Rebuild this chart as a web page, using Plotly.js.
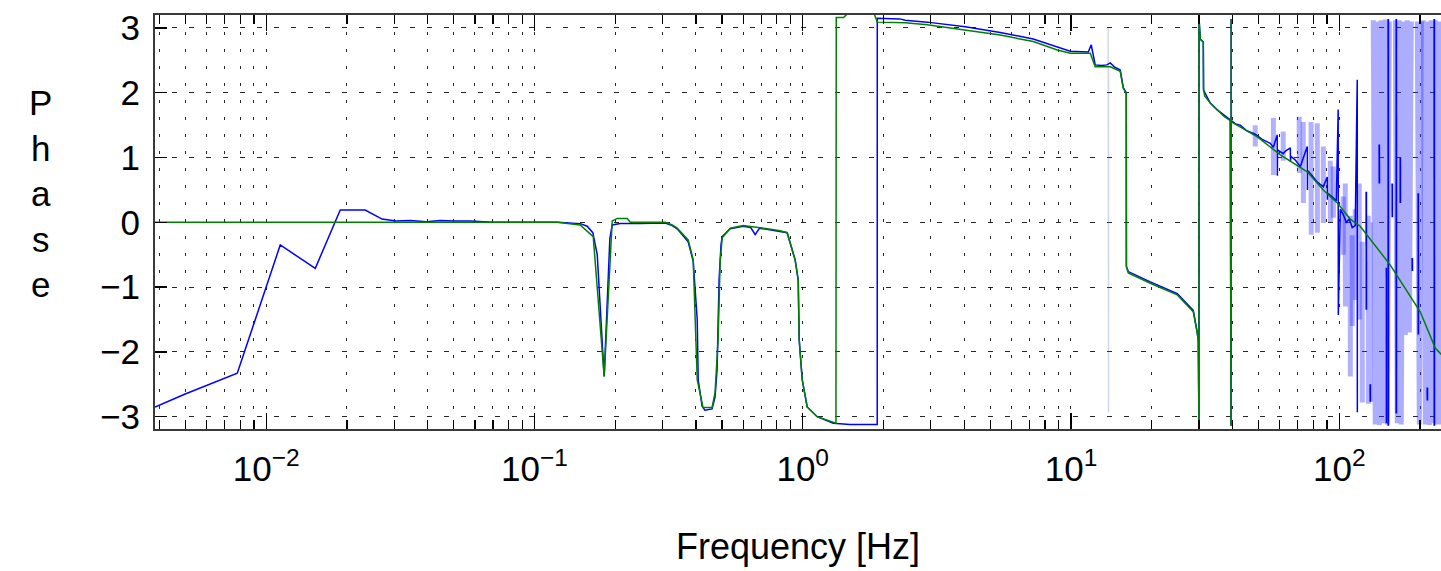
<!DOCTYPE html>
<html>
<head>
<meta charset="utf-8">
<script src="https://cdn.plot.ly/plotly-3.0.1.min.js"></script>
<style>
  html, body { margin: 0; padding: 0; background: #fff; }
  #chart { width: 1441px; height: 571px; }
</style>
</head>
<body>
<div id="chart"></div>
<script>
// Phase response: measured (blue) against model (green), frequency in Hz, phase in rad.
// Each series is a list of [frequency, phase] pairs; null breaks a line.

const measuredMain = [
  [0.00385, -2.85], [0.00499, -2.65], [0.0078, -2.33], [0.01128, -0.35], [0.01524, -0.71],
  [0.01888, 0.19], [0.02339, 0.19], [0.02704, 0.05], [0.0305, 0.02], [0.0344, 0.03],
  [0.0395, 0.01], [0.0446, 0.03], [0.05, 0.02], [0.0576, 0.02], [0.07, 0.0],
  [0.1, 0.0], [0.1216, 0.0], [0.148, -0.02], [0.1572, -0.06], [0.165, -0.16],
  [0.1714, -0.5], [0.1819, -2.38], [0.186, -1.3], [0.191, -0.25], [0.1949, -0.04],
  [0.2088, -0.02], [0.2479, -0.02], [0.3071, -0.01], [0.3263, -0.05], [0.3404, -0.1],
  [0.3741, -0.3], [0.3906, -0.6], [0.4043, -1.5], [0.4077, -2.43], [0.4216, -2.84],
  [0.432, -2.9], [0.4592, -2.88], [0.4711, -2.7], [0.4794, -2.28], [0.4878, -0.89],
  [0.4958, -0.35], [0.5008, -0.22], [0.5366, -0.1], [0.5998, -0.06], [0.64, -0.08],
  [0.6652, -0.19], [0.69, -0.09], [0.7373, -0.11], [0.8244, -0.14], [0.8751, -0.16],
  [0.898, -0.32], [0.937, -0.58], [0.962, -0.89], [0.970, -1.81], [0.9957, -2.43],
  [1.039, -2.85], [1.132, -3.0], [1.299, -3.1], [1.5, -3.12], [1.8955, -3.12],
  [1.8961, 3.15], [2.0, 3.15], [2.3, 3.14], [2.411, 3.12], [2.911, 3.09],
  [4.036, 3.02], [5.449, 2.93], [7.234, 2.83], [8.889, 2.70], [9.936, 2.64],
  [11.6, 2.63], [11.9, 2.74], [12.0, 2.66], [12.31, 2.43], [13.0, 2.42],
  [13.6, 2.43], [14.01, 2.46], [14.5, 2.40], [15.26, 2.35], [15.66, 2.08],
  [16.07, 2.0], [16.09, -0.68], [16.35, -0.76], [19.75, -0.92], [24.9, -1.10],
  [28.56, -1.36], [29.56, -1.70], [29.82, -1.83], [30.0, -3.14], [30.01, 3.14],
  [30.34, 2.83], [31.13, 2.78], [31.2, 2.04], [33.05, 1.84], [35.0, 1.74],
  [37.3, 1.65], [39.25, 1.58], [39.5, -3.14], [39.55, 3.14], [39.6, 1.57],
  [41.0, 1.52], [42.75, 1.50], [45.0, 1.42], [48.6, 1.36], [51.6, 1.28],
  [55.3, 1.22], [56.8, 1.16], [58.7, 1.35], [58.8, 0.72], [58.9, 1.12],
  [61.8, 1.06], [63.0, 1.10], [65.7, 1.15], [65.8, 0.93], [66.0, 1.02],
  [68.6, 0.96], [71.6, 0.86], [76.0, 1.17], [76.1, 0.50], [76.2, 0.80],
  [79.3, 0.72], [82.8, 0.62], [87.2, 0.55], [90.2, 0.70], [90.3, 0.35],
  [90.4, 0.45], [95.0, 0.38], [97.5, 0.33], [99.1, 1.74], [99.2, -1.43],
  [100.9, 0.2], [103.5, 0.12], [106.2, 0.0], [109.0, 0.05], [111.8, -0.08],
  [114.7, -0.05], [116.7, 2.2], [116.8, -2.93]
];

// isolated dark strokes in the wrapped, noisy top decade
const measuredStrokes = [
  [126.1, 0.47], [126.2, -1.35], null,
  [130.5, -2.5], [130.6, -2.77], null,
  [141.0, 1.2], [141.1, 0.6], null,
  [150.0, -0.7], [150.1, -3.1], null,
  [152.3, -3.14], [152.35, 3.14], null,
  [157.6, 0.6], [157.7, 0.08], null,
  [163.2, 3.14], [163.3, -2.95], null,
  [168.9, 1.0], [169.0, 0.3], null,
  [187.2, -0.55], [187.3, -0.75], null,
  [197.1, 0.45], [197.2, -1.73], null,
  [213.0, -2.55], [213.1, -2.75], null,
  [226.1, 3.14], [226.2, -3.14]
];

// single faint outlier near 13.8 Hz
const measuredSpike = [
  [13.75, 2.43], [13.76, 3.0], [13.8, -2.93], [13.81, 2.4]
];

// faint scatter of the measurement around the model curve
const measuredFaint = [
  [48.6, 1.50], [48.65, 1.17], null,
  [56.8, 1.61], [56.85, 0.73], null,
  [61.8, 1.40], [61.85, 0.95], null,
  [70.9, 1.63], [71.0, 0.76], null,
  [73.4, 1.55], [73.5, 0.3], null,
  [78.5, 1.55], [78.6, -0.19], null,
  [82.8, 1.53], [82.9, -0.16], null,
  [87.2, 1.17], [87.3, -0.01], null,
  [92.6, 0.95], [92.7, 0.0], null,
  [95.0, 0.86], [95.1, 0.07], null,
  [103.5, 0.4], [103.6, -0.5], null,
  [105.3, 0.6], [105.4, -1.3], null,
  [109.9, 0.1], [110.0, -2.38], null,
  [111.8, -0.2], [111.9, -1.6], null,
  [114.7, 0.2], [114.8, -1.2], null,
  [118.7, 0.6], [118.8, -1.5], null,
  [121.8, -0.3], [121.9, -2.78], null,
  [128.3, 0.1], [128.4, -2.8], [130.5, 0.0], [130.6, -2.77]
];

// dense phase wrapping above ~130 Hz
const measuredWrapped = [
  [133.9, 3.12], [136.2, -3.12], [138.6, 3.1], [141.0, -3.13], [143.5, 3.12],
  [145.9, -3.1], [148.5, 3.13], [151.0, -3.12], [153.7, 3.1], null,
  [161.8, 3.12], [164.6, -3.1], [167.4, 3.12], [170.3, -3.12], [173.3, 3.1],
  [176.3, -1.74], [179.3, 3.12], [182.5, -1.7], [185.6, 3.1], null,
  [195.4, 3.1], [198.8, -3.12], [202.3, 3.1], null,
  [205.8, 3.12], [209.3, -3.12], [213.0, 3.1], [216.7, -3.13], [220.4, 3.12],
  [224.2, -3.1], [228.1, 3.12], [232.1, -3.12], [236.1, 3.1], [240.2, -3.12]
];

const model = [
  [0.00385, 0], [0.1216, 0], [0.148, -0.04], [0.1656, -0.22], [0.1819, -2.38],
  [0.1949, 0.02], [0.2035, 0.06], [0.2218, 0.06], [0.2276, 0], [0.3071, 0],
  [0.3263, -0.04], [0.3404, -0.09], [0.3741, -0.27], [0.3906, -0.58], [0.4043, -2.43],
  [0.425, -2.86], [0.4592, -2.86], [0.4711, -2.63], [0.4837, -1.81], [0.492, -0.63],
  [0.5008, -0.24], [0.5366, -0.09], [0.5998, -0.05], [0.6652, -0.07], [0.7373, -0.1],
  [0.8244, -0.13], [0.8751, -0.16], [0.898, -0.32], [0.937, -0.58], [0.962, -0.89],
  [0.970, -1.81], [0.9957, -2.43], [1.039, -2.85], [1.132, -3.0], [1.299, -3.08],
  [1.33, -3.1], [1.3334, 3.16], [1.42, 3.16], [1.46, 3.21], [1.85, 3.21],
  [1.896, 3.09], [2.411, 3.08], [2.911, 3.05], [4.036, 2.97], [5.449, 2.89], [7.234, 2.79],
  [8.889, 2.66], [9.936, 2.61], [11.8, 2.61], [12.31, 2.40], [14.01, 2.40],
  [15.26, 2.33], [15.66, 2.07], [16.07, 1.99], [16.09, -0.68], [16.35, -0.78],
  [19.75, -0.94], [24.9, -1.12], [28.56, -1.38], [29.56, -1.71], [29.82, -1.82],
  [30.0, -3.14], [30.01, 3.14], [30.34, 2.82], [31.13, 2.79], [31.2, 2.05],
  [31.5, 1.95], [33.05, 1.84], [35.0, 1.74], [37.3, 1.63], [39.25, 1.57],
  [39.5, -3.14], [39.55, 3.14], [39.6, 1.55], [49.5, 1.32], [60.3, 1.04],
  [76.0, 0.78], [87.2, 0.50], [98.3, 0.30], [109.9, 0.05], [119.7, -0.06],
  [155.0, -0.66], [179.3, -1.07], [200.4, -1.38], [228.0, -1.94], [240.1, -2.04]
];

const decadeTicks = [0.01, 0.1, 1, 10, 100];
const decadeLabels = ['10<sup>−2</sup>', '10<sup>−1</sup>', '10<sup>0</sup>', '10<sup>1</sup>', '10<sup>2</sup>'];
const phaseTicks = [-3, -2, -1, 0, 1, 2, 3];
const phaseLabels = ['−3', '−2', '−1', '0', '1', '2', '3'];
const freqRange = [0.00385, 239.5];
const phaseRange = [-3.19, 3.2];

function cols(pairs) {
  return {
    x: pairs.map(p => p === null ? null : p[0]),
    y: pairs.map(p => p === null ? null : p[1])
  };
}

// minor ticks at 2..9 of every decade inside the range
const minorTicks = [];
for (let e = -3; e <= 2; e++) {
  for (let d = 2; d <= 9; d++) {
    const v = d * Math.pow(10, e);
    if (v > freqRange[0] && v < freqRange[1]) minorTicks.push(v);
  }
}

const BLUE = 'rgb(0,0,255)';
const GREEN = 'rgb(0,128,0)';
const FONT = 'Liberation Sans, Arial, Helvetica, sans-serif';

const traces = [
  Object.assign(cols(measuredWrapped), {
    type: 'scatter', mode: 'lines', connectgaps: false, hoverinfo: 'skip',
    line: { color: 'rgba(50,50,255,0.4)', width: 5 }
  }),
  Object.assign(cols(measuredFaint), {
    type: 'scatter', mode: 'lines', connectgaps: false, hoverinfo: 'skip',
    line: { color: 'rgba(50,50,255,0.38)', width: 5 }
  }),
  Object.assign(cols(measuredSpike), {
    type: 'scatter', mode: 'lines', hoverinfo: 'skip',
    line: { color: 'rgba(90,120,200,0.3)', width: 1.3 }
  }),
  Object.assign(cols(measuredMain), {
    type: 'scatter', mode: 'lines',
    line: { color: BLUE, width: 1.5 }
  }),
  Object.assign(cols(measuredStrokes), {
    type: 'scatter', mode: 'lines', connectgaps: false,
    line: { color: BLUE, width: 1.8 }
  }),
  Object.assign(cols(model), {
    type: 'scatter', mode: 'lines',
    line: { color: GREEN, width: 1.5 }
  })
];

const layout = {
  width: 1441,
  height: 571,
  margin: { l: 155, r: 0, t: 15, b: 142 },
  paper_bgcolor: '#ffffff',
  plot_bgcolor: '#ffffff',
  showlegend: false,
  font: { family: FONT, color: '#000', size: 34 },
  xaxis: {
    type: 'log',
    range: [Math.log10(freqRange[0]), Math.log10(freqRange[1])],
    tickmode: 'array',
    tickvals: decadeTicks,
    ticktext: decadeLabels,
    ticks: 'inside',
    ticklen: 16,
    tickwidth: 1.3,
    tickcolor: '#000',
    ticklabelstandoff: 8,
    tickfont: { family: FONT, size: 35, color: '#000' },
    showline: true,
    linecolor: '#3a3a3a',
    linewidth: 2,
    mirror: 'ticks',
    layer: 'above traces',
    showgrid: true,
    gridcolor: 'rgba(0,0,0,0.85)',
    gridwidth: 1,
    griddash: '3px,14px',
    zeroline: false,
    minor: {
      tickmode: 'array',
      tickvals: minorTicks,
      ticks: 'inside',
      ticklen: 9,
      tickwidth: 1.3,
      tickcolor: '#000',
      showgrid: true,
      gridcolor: 'rgba(0,0,0,0.85)',
      gridwidth: 1,
      griddash: '3px,14px'
    },
    title: {
      text: 'Frequency [Hz]',
      font: { family: FONT, size: 36, color: '#000' },
      standoff: 47
    }
  },
  yaxis: {
    range: phaseRange,
    tickmode: 'array',
    tickvals: phaseTicks,
    ticktext: phaseLabels,
    ticks: 'inside',
    ticklen: 12,
    tickwidth: 1.3,
    tickcolor: '#000',
    ticklabelstandoff: 6,
    tickfont: { family: FONT, size: 35, color: '#000' },
    showline: true,
    linecolor: '#3a3a3a',
    linewidth: 2,
    mirror: false,
    layer: 'above traces',
    showgrid: true,
    gridcolor: 'rgba(0,0,0,0.85)',
    gridwidth: 1,
    griddash: '5px,12px',
    zeroline: false
  },
  annotations: [{
    text: 'P<br>h<br>a<br>s<br>e',
    xref: 'paper', yref: 'paper',
    x: -0.0894, y: 0.57,
    xanchor: 'center', yanchor: 'middle',
    align: 'center',
    showarrow: false,
    font: { family: FONT, size: 35, color: '#000' }
  }]
};

Plotly.newPlot('chart', traces, layout, { staticPlot: true, displayModeBar: false });
</script>
</body>
</html>
